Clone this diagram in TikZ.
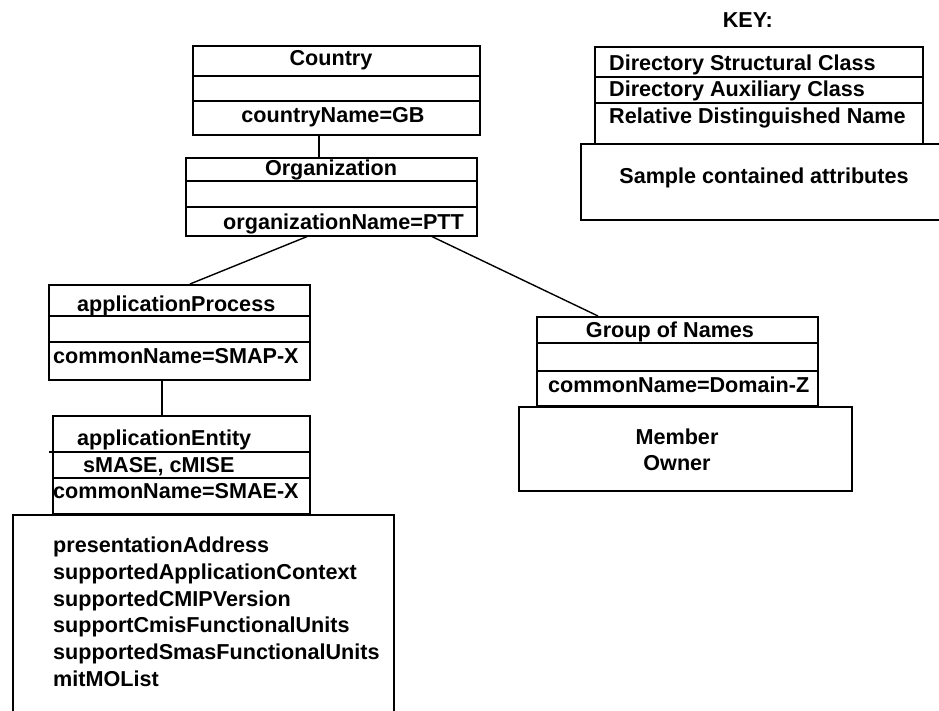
\documentclass[tikz,border=0pt]{standalone}
\usepackage{fontspec}
\setmainfont{Liberation Sans}
\begin{document}
\begin{tikzpicture}[x=1pt,y=-1pt,
  box/.style={draw, line width=1.6pt, rectangle, inner sep=0pt, anchor=north west},
  rule/.style={line width=1.6pt},
  link/.style={line width=1.4pt},
  lbl/.style={inner sep=0pt, font=\bfseries\fontsize{21.6}{26.7}\selectfont},
  lblc/.style={lbl, anchor=base},
  lbll/.style={lbl, anchor=base west},
  lines/.style={lbl, align=left, anchor=north west}]
\useasboundingbox (0,0) rectangle (939,711);

% object class boxes
\node[box, minimum width=287pt, minimum height=89pt] (country) at (192,45) {};
\node[box, minimum width=291pt, minimum height=78pt] (org) at (185,157) {};
\node[box, minimum width=261pt, minimum height=95pt] (ap) at (48,284) {};
\node[box, minimum width=257pt, minimum height=98pt] (ae) at (52,415) {};
\node[box, minimum width=381pt, minimum height=210pt] (attrs) at (12,514) {};
\node[box, minimum width=281pt, minimum height=89pt] (gon) at (536,316) {};
\node[box, minimum width=333pt, minimum height=84pt] (member) at (518,406) {};

% key boxes
\node[box, minimum width=328pt, minimum height=97pt] (keytop) at (594,46) {};
\node[box, minimum width=365pt, minimum height=76pt] (keybot) at (580,143) {};

% dividers between the class, auxiliary and RDN rows
\foreach \n/\a/\b in {country/76/101, org/181/207, ap/316/342, gon/343/371, keytop/77/103}{
  \draw[rule] (\n.west |- 0,\a) -- (\n.east |- 0,\a);
  \draw[rule] (\n.west |- 0,\b) -- (\n.east |- 0,\b);
}
\draw[rule] (49,452) -- (ae.east |- 0,452);
\draw[rule] (ae.west |- 0,478) -- (ae.east |- 0,478);

% tree connectors
\draw[link] (country.south -| 319,0) -- (org.north -| 319,0);
\draw[link] (org.south -| 307,0) -- (ap.north -| 190,0);
\draw[link] (org.south -| 432,0) -- (gon.north -| 598,0);
\draw[link] (ap.south -| 162,0) -- (ae.north -| 162,0);

% labels
\node[lblc] (tcountry) at (331,66) {Country};
\node[lblc] (tcname) at (333,123) {countryName=GB};
\node[lblc] (torg) at (331,176) {Organization};
\node[lbll] (toname) at (223,230) {organizationName=PTT};

\node[lbll] (tap) at (77,311) {applicationProcess};
\node[lbll] (tapname) at (53,363) {commonName=SMAP-X};
\node[lbll] (tae) at (77,445) {applicationEntity};
\node[lbll] (taux) at (83,472) {sMASE, cMISE};
\node[lbll] (taename) at (53,498) {commonName=SMAE-X};
\node[lines] (tattrs) at (53,537) {presentationAddress\\supportedApplicationContext\\supportedCMIPVersion\\supportCmisFunctionalUnits\\supportedSmasFunctionalUnits\\mitMOList};

\node[lblc] (tgon) at (670,337) {Group of Names};
\node[lbll] (tgname) at (548,392) {commonName=Domain-Z};
\node[lblc] (tmember) at (677,444) {Member};
\node[lblc] (towner) at (677,470) {Owner};

\node[lbl, anchor=base east] (tkey) at (773,28) {KEY:};
\node[lbll] (tk1) at (609,71) {Directory Structural Class};
\node[lbll] (tk2) at (609,97) {Directory Auxiliary Class};
\node[lbll] (tk3) at (609,124) {Relative Distinguished Name};
\node[lblc] (tk4) at (764,184) {Sample contained attributes};
\end{tikzpicture}
\end{document}
